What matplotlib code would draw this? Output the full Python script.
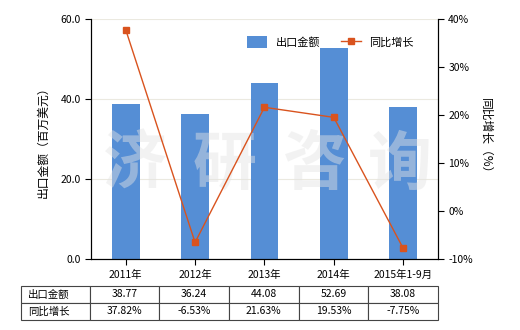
import matplotlib.pyplot as plt
import numpy as np

plt.rcParams['font.family'] = ['Noto Sans CJK SC', 'DejaVu Sans']

years = ['2011年', '2012年', '2013年', '2014年', '2015年1-9月']
export_value = [38.77, 36.24, 44.08, 52.69, 38.08]
growth = [37.82, -6.53, 21.63, 19.53, -7.75]
value_labels = ['38.77', '36.24', '44.08', '52.69', '38.08']
growth_labels = ['37.82%', '-6.53%', '21.63%', '19.53%', '-7.75%']

bar_color = '#558ed5'
line_color = '#d9531e'

fig = plt.figure(figsize=(5.2, 3.3), dpi=100)
ax = fig.add_axes([0.175, 0.215, 0.667, 0.727])
x = np.arange(len(years))

bars = ax.bar(x, export_value, width=0.4, color=bar_color, zorder=2, label='出口金额')
ax.set_xlim(-0.5, 4.5)
ax.set_ylim(0, 60)
ax.set_yticks([0, 20, 40, 60])
ax.set_yticklabels(['0.0', '20.0', '40.0', '60.0'])
ax.yaxis.grid(True, color='#ebe9e0', lw=0.8, zorder=0)
ax.set_xticks(x)
ax.set_xticklabels(years)
ax.tick_params(labelsize=7.5, length=4, color='black')
ax.spines['top'].set_visible(False)
ax.set_ylabel('出口金额（百万美元）', fontsize=8.5, labelpad=8)

ax2 = ax.twinx()
line, = ax2.plot(x, growth, color=line_color, lw=1, marker='s', markersize=4,
                 zorder=3, label='同比增长')
ax2.set_ylim(-10, 40)
ax2.set_yticks([-10, 0, 10, 20, 30, 40])
ax2.set_yticklabels(['-10%', '0%', '10%', '20%', '30%', '40%'])
ax2.tick_params(labelsize=7.5, length=4)
ax2.spines['top'].set_visible(False)
ax2.set_ylabel('同比增长（%）', fontsize=8.5, rotation=270, labelpad=14)

# watermark
for wx, ch in zip([0.13, 1.43, 2.73, 3.95], '济研咨询'):
    ax.text(wx, 23.5, ch, fontsize=46, color='#e4e4e4', alpha=0.45,
            ha='center', va='center', fontweight='bold', zorder=4)

ax.legend([bars, line], ['出口金额', '同比增长'], loc='upper right',
          bbox_to_anchor=(0.96, 0.97), ncol=2, frameon=False, fontsize=8,
          handlelength=1.8, handleheight=1.3, columnspacing=1.8)

cells = [['出口金额'] + value_labels, ['同比增长'] + growth_labels]
tab = ax.table(cellText=cells, bbox=[-0.2017, -0.254, 1.2017, 0.1417],
               colWidths=[69] + [70] * 5, cellLoc='center')
tab.auto_set_font_size(False)
tab.set_fontsize(7.5)
for (r, c), cell in tab.get_celld().items():
    cell.set_edgecolor('#444444')
    cell.set_linewidth(0.8)
    if c == 0:
        cell.set_text_props(ha='left')
        cell._loc = 'left'

fig.savefig('out.png', dpi=100)
